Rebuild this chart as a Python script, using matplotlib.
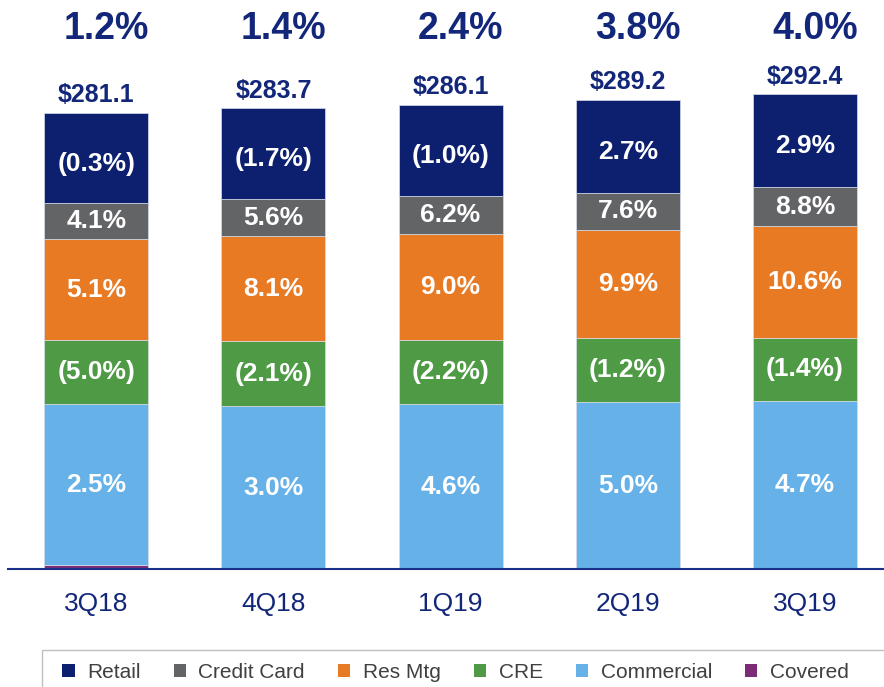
import matplotlib
matplotlib.use("Agg")
import matplotlib.pyplot as plt
from matplotlib.patches import Patch, Rectangle
import numpy as np

plt.rcParams['font.family'] = ['Liberation Sans', 'DejaVu Sans']

# ---------------- data ----------------
quarters = ["3Q18", "4Q18", "1Q19", "2Q19", "3Q19"]
totals = [281.1, 283.7, 286.1, 289.2, 292.4]
total_growth = ["1.2%", "1.4%", "2.4%", "3.8%", "4.0%"]

series_names = ["Retail", "Credit Card", "Res Mtg", "CRE", "Commercial", "Covered"]
covered = [2.6, 0.0, 0.0, 0.0, 0.0]
commercial = [98.9, 100.5, 101.5, 103.0, 103.5]
cre = [39.6, 40.0, 39.8, 39.4, 39.0]
res_mtg = [62.2, 64.6, 65.3, 66.7, 68.8]
credit_card = [22.0, 22.6, 23.0, 22.8, 23.8]
retail = [55.8, 56.0, 56.5, 57.3, 57.3]

commercial_lbl = ["2.5%", "3.0%", "4.6%", "5.0%", "4.7%"]
cre_lbl = ["(5.0%)", "(2.1%)", "(2.2%)", "(1.2%)", "(1.4%)"]
res_mtg_lbl = ["5.1%", "8.1%", "9.0%", "9.9%", "10.6%"]
credit_card_lbl = ["4.1%", "5.6%", "6.2%", "7.6%", "8.8%"]
retail_lbl = ["(0.3%)", "(1.7%)", "(1.0%)", "2.7%", "2.9%"]

# ---------------- style ----------------
NAVY = "#12267A"
colors = {
    "Retail": "#0D2070",
    "Credit Card": "#636466",
    "Res Mtg": "#E87A24",
    "CRE": "#4F9B45",
    "Commercial": "#66B1E8",
    "Covered": "#7D2B78",
}

W, H = 884, 687
fig = plt.figure(figsize=(W / 100, H / 100), dpi=100)
base_px = 569.3
ax = fig.add_axes([8 / W, 1 - base_px / H, 876 / W, base_px / H])

x = np.arange(len(quarters))
bar_w = 0.587

stack = [
    ("Covered", covered, None, 0),
    ("Commercial", commercial, commercial_lbl, 0),
    ("CRE", cre, cre_lbl, 0),
    ("Res Mtg", res_mtg, res_mtg_lbl, 0),
    ("Credit Card", credit_card, credit_card_lbl, 0),
    ("Retail", retail, retail_lbl, -4),
]

bottom = np.zeros(len(quarters))
for name, vals, lbls, dy in stack:
    vals = np.array(vals)
    ax.bar(x, vals, bar_w, bottom=bottom, color=colors[name],
           edgecolor="#D8DEEA", linewidth=0.5, zorder=2)
    if lbls is not None:
        for i in range(len(x)):
            ax.annotate(lbls[i], xy=(x[i], bottom[i] + vals[i] / 2), xytext=(0, dy),
                        textcoords="offset points", ha="center", va="center",
                        color="white", fontsize=19, fontweight="bold", zorder=3)
    bottom = bottom + vals

# total labels
for i in range(len(x)):
    ax.annotate(f"${totals[i]:.1f}", xy=(x[i], bottom[i]), xytext=(0, 12.5),
                textcoords="offset points", ha="center", va="center",
                color=NAVY, fontsize=18, fontweight="bold", annotation_clip=False)

# growth labels at top
for i in range(len(x)):
    ax.annotate(total_growth[i], xy=(x[i], 1 - 29 / H), xycoords=("data", "figure fraction"),
                xytext=(7.2, 0), textcoords="offset points", ha="center", va="center",
                color=NAVY, fontsize=27, fontweight="bold", annotation_clip=False)

ax.set_xlim(-0.498, 4.446)
ax.set_ylim(0, base_px / 1.6244)
ax.set_xticks(x)
ax.set_xticklabels(quarters, fontsize=19, color=NAVY)
ax.tick_params(axis="x", length=0, pad=16)
ax.set_yticks([])
for s in ["top", "right", "left"]:
    ax.spines[s].set_visible(False)
ax.spines["bottom"].set_color("#1C318A")
ax.spines["bottom"].set_linewidth(1.5)
ax.spines["bottom"].set_zorder(4)
ax.patch.set_alpha(0)

# legend box
fig.add_artist(Rectangle((42 / W, -0.1), 1.2, 0.1 + (1 - 650 / H), transform=fig.transFigure,
                         fill=False, edgecolor="#BFBFBF", linewidth=1.0))
handles = [Patch(facecolor=colors[n], edgecolor="none") for n in series_names]
fig.legend(handles, series_names, loc="center left", bbox_to_anchor=(52 / W, 1 - 672 / H),
           ncol=6, frameon=False, fontsize=15, handlelength=0.58, handleheight=0.58,
           handletextpad=0.6, columnspacing=1.6, borderpad=0, labelcolor="#404040")

fig.savefig("out.png", dpi=100)
